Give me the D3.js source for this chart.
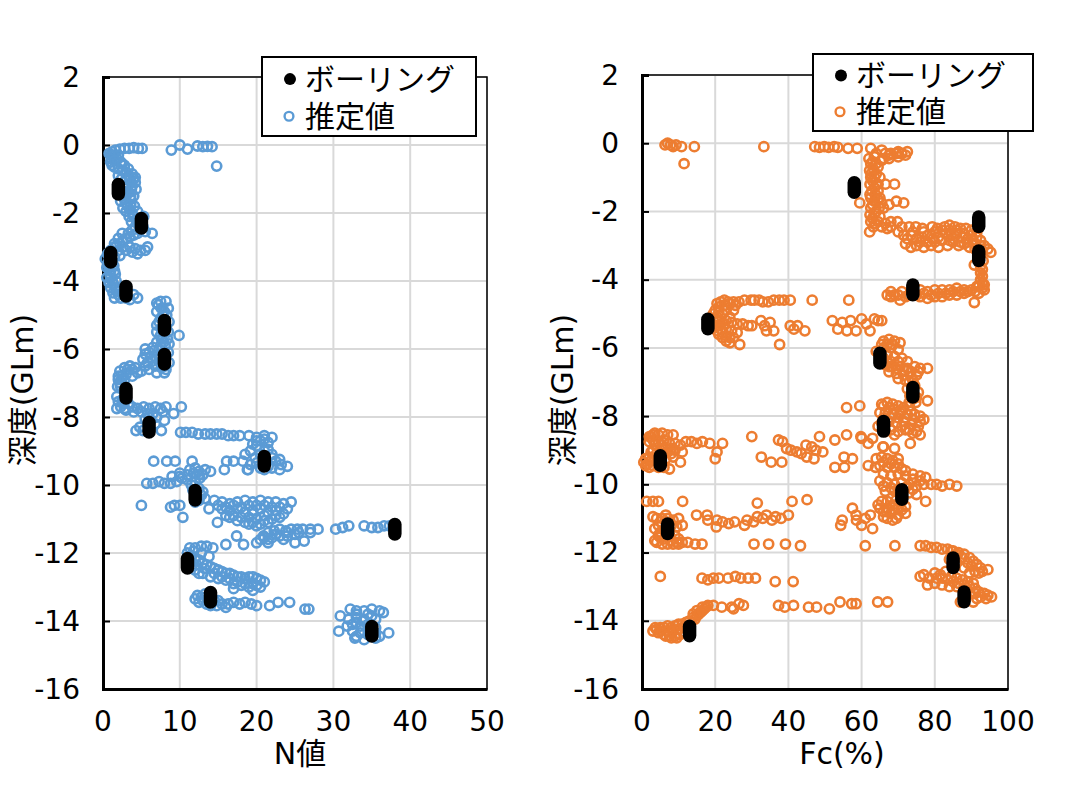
<!DOCTYPE html>
<html><head><meta charset="utf-8">
<script src="https://cdn.jsdelivr.net/npm/d3@7"></script>
<style>
body{margin:0;background:#fff}
text{font-family:"DejaVu Sans","Noto Sans CJK JP",sans-serif;fill:#000}
</style></head>
<body><svg id="c" width="1066" height="800"></svg>
<script>
// ---------------- DATA ----------------
const depthTicks = [2,0,-2,-4,-6,-8,-10,-12,-14,-16];
const nTicks = [0,10,20,30,40,50];
const fcTicks = [0,20,40,60,80,100];
const legendLabels = ["ボーリング","推定値"];

// boring (SPT) depth centres (GL m)
const boringDepth = [-1.3,-2.3,-3.3,-4.3,-5.3,-6.3,-7.3,-8.3,-9.3,-10.3,-11.3,-12.3,-13.3,-14.3];
const boringN  = [2,5,1,3,8,8,3,6,21,12,38,11,14,35];
const boringFc = [58,92,92,74,18,65,74,66,5,71,7,85,88,13];

// estimated N values [N, depth]
const estN = [
[1.2,-0.2],[1.6,-0.15],[2.2,-0.12],[2.8,-0.1],[3.4,-0.1],[4.0,-0.08],[4.6,-0.1],[5.1,-0.1],
[8.9,-0.15],[10.0,0.0],[11.0,-0.12],[12.3,-0.03],[13.0,-0.05],[13.6,-0.04],[14.2,-0.05],[14.8,-0.62],
[1.0,-0.3],[1.1,-0.4],[1.0,-0.5],[1.2,-0.6],[1.5,-0.65],[2.0,-0.7],[2.5,-0.75],[3.0,-0.8],[3.3,-0.9],
[3.5,-1.0],[3.7,-1.1],[3.8,-1.2],[3.7,-1.3],[3.4,-1.4],[3.0,-1.45],[2.7,-1.5],[2.8,-1.6],[3.0,-1.7],
[3.2,-1.8],[3.5,-1.9],[3.8,-2.0],[4.0,-2.1],[4.3,-2.2],[4.5,-2.3],[4.7,-2.4],[4.8,-2.5],[6.4,-2.6],
[4.5,-2.6],[4.0,-2.65],[3.5,-2.7],[3.0,-2.75],[2.6,-2.8],[2.2,-2.9],[1.8,-2.95],[3.5,-3.0],[4.2,-3.05],
[4.9,-3.1],[5.5,-3.1],[3.0,-3.1],[1.5,-3.0],[1.0,-3.1],[0.6,-3.2],[0.3,-3.35],[0.6,-3.5],[0.8,-3.6],
[1.0,-3.7],[0.9,-3.8],[1.0,-3.9],[1.2,-4.0],[1.4,-4.1],[1.6,-4.2],[1.8,-4.3],[2.0,-4.4],[2.3,-4.5],
[3.5,-4.55],[4.5,-4.5],[3.0,-4.5],[1.8,-0.4],[2.3,-0.5],[2.8,-0.6],[4.0,-1.0],[4.2,-1.1],[4.0,-1.5],
[3.6,-1.6],[2.4,-1.0],[2.0,-0.9],[4.1,-1.8],[4.9,-2.2],[5.2,-2.4],[2.5,-2.6],[2.0,-3.1],[1.2,-3.4],[1.6,-3.8],
[0.8,-0.25],[1.4,-0.3],[2.0,-0.3],[1.5,-0.45],[2.5,-0.55],[3.3,-0.7],[3.8,-0.85],[4.2,-0.95],[3.0,-1.0],
[2.8,-1.2],[3.2,-1.25],[4.3,-1.3],[2.6,-1.35],[3.6,-1.5],[2.3,-1.65],[3.6,-1.75],[2.6,-1.85],[3.0,-1.95],
[4.5,-1.95],[3.4,-2.1],[3.7,-2.25],[5.3,-2.1],[5.5,-2.55],[3.8,-2.5],[4.2,-2.4],[3.3,-2.6],[2.0,-2.75],
[1.5,-2.9],[2.6,-3.0],[4.5,-3.2],[5.8,-3.0],[3.8,-3.15],[2.2,-3.25],[1.5,-3.3],[0.8,-3.4],[0.5,-3.6],
[1.4,-3.55],[1.5,-3.7],[0.5,-3.9],[1.7,-4.0],[0.8,-4.05],[1.0,-4.2],[2.2,-4.25],[1.3,-4.35],[2.6,-4.4],
[1.5,-4.5],[4.0,-4.4],
[7.5,-4.6],[7.2,-4.7],[7.6,-4.8],[8.0,-4.9],[7.8,-5.0],[7.5,-5.1],[7.3,-5.2],[7.6,-5.4],[7.8,-5.5],
[7.5,-5.6],[9.9,-5.6],[7.6,-5.7],[7.9,-5.8],[8.1,-5.9],[7.3,-6.0],[6.6,-6.05],[6.0,-6.1],[5.5,-6.15],
[6.2,-6.25],[7.0,-6.3],[7.5,-6.4],[8.0,-6.5],[8.2,-6.6],[8.0,-6.7],[7.0,-6.7],[6.0,-6.6],[5.0,-6.65],
[4.2,-6.55],[3.5,-6.5],[2.8,-6.55],[2.2,-6.65],[2.5,-6.8],[3.0,-6.75],[2.4,-6.9],[2.2,-7.0],[2.3,-7.1],
[2.5,-7.5],[2.7,-7.6],[2.3,-7.7],[1.8,-7.75],[3.0,-7.8],[3.8,-7.7],[4.5,-7.75],[5.3,-7.7],[6.0,-7.75],
[6.8,-7.7],[7.5,-7.75],[8.2,-7.7],[9.2,-7.9],[10.2,-7.7],[6.5,-7.9],[7.0,-8.0],[6.2,-8.1],[5.5,-8.05],
[4.3,-8.4],[7.6,-8.4],[4.8,-8.3],[8.5,-4.8],[8.6,-5.2],[8.4,-5.7],[8.5,-6.1],[8.6,-6.4],[5.8,-6.4],[7.5,-6.2],
[7.0,-4.65],[8.2,-4.6],[7.0,-4.9],[8.3,-5.0],[7.0,-5.3],[8.2,-5.35],[7.0,-5.5],[8.5,-5.5],[7.0,-5.8],
[8.6,-5.85],[7.5,-5.9],[6.5,-5.95],[5.5,-6.0],[5.2,-6.3],[6.5,-6.35],[6.8,-6.5],[7.6,-6.55],[5.5,-6.5],
[4.5,-6.7],[3.8,-6.6],[3.2,-6.6],[3.8,-6.8],[2.0,-6.8],[2.0,-6.9],[2.8,-6.9],[1.9,-7.1],[1.8,-7.4],
[2.0,-7.55],[3.3,-7.6],[2.8,-7.75],[4.0,-7.85],[5.0,-7.85],[5.8,-7.9],[7.8,-7.85],[6.0,-8.0],[8.0,-8.1],
[6.8,-8.2],[5.2,-8.4],
[10.1,-8.45],[10.8,-8.45],[11.6,-8.45],[12.4,-8.5],[13.3,-8.5],[14.0,-8.5],[14.8,-8.5],[15.5,-8.5],
[16.3,-8.55],[17.0,-8.55],[17.8,-8.55],
[19.0,-8.55],[20.0,-8.6],[21.0,-8.55],[22.0,-8.6],[20.5,-8.7],[21.5,-8.75],[20.0,-8.85],[19.2,-9.0],
[18.5,-9.1],[19.8,-9.2],[20.5,-9.1],[22.0,-9.1],[22.5,-9.3],[23.2,-9.4],[24.0,-9.45],[22.0,-9.5],
[20.5,-9.5],[19.2,-9.4],[18.8,-9.55],[21.5,-8.95],
[20.0,-8.7],[21.0,-8.65],[19.5,-8.8],[21.0,-9.0],[22.0,-9.2],[23.0,-9.25],[20.0,-9.35],[21.5,-9.45],
[23.0,-9.55],[21.0,-9.55],
[6.6,-9.3],[8.3,-9.3],[9.4,-9.3],[11.6,-9.3],[16.1,-9.3],[17.0,-9.3],[18.2,-9.3],[15.8,-9.55],[18.9,-9.55],
[5.7,-9.95],[6.5,-9.95],[7.3,-9.9],[8.0,-9.95],[8.8,-9.95],[9.6,-9.9],[10.3,-9.8],[11.0,-9.7],[11.8,-9.65],
[12.5,-9.6],[13.3,-9.55],[14.0,-9.6],[10.0,-9.65],[11.3,-9.55],[12.0,-9.5],[9.0,-9.75],[12.6,-9.8],
[11.5,-10.0],[12.5,-10.1],[12.8,-10.3],[13.3,-10.4],[12.0,-10.5],
[10.0,-9.75],[11.0,-9.85],[12.0,-9.9],[12.5,-9.7],[13.0,-9.7],[11.7,-10.15],[12.5,-10.45],[13.0,-10.2],
[5.0,-10.6],[8.8,-10.65],[9.3,-10.6],[10.0,-10.6],[10.4,-10.95],[13.8,-10.7],[14.9,-11.1],
[14.5,-10.45],[15.5,-10.5],[16.5,-10.55],[17.5,-10.5],[18.5,-10.45],[19.5,-10.5],[20.5,-10.45],[21.5,-10.5],
[22.5,-10.5],[23.5,-10.55],[24.5,-10.5],[15.5,-10.7],[16.5,-10.75],[17.5,-10.7],[18.5,-10.8],[19.5,-10.75],
[20.5,-10.7],[21.5,-10.8],[22.5,-10.75],[23.5,-10.85],[17.0,-10.9],[18.0,-10.95],[19.0,-10.95],[20.0,-11.0],
[21.0,-10.9],[22.0,-11.0],[23.0,-10.95],[18.5,-11.1],[19.5,-11.1],[20.5,-11.15],[21.5,-11.1],[17.5,-11.05],[16.0,-10.9],
[15.0,-10.6],[16.0,-10.65],[17.0,-10.6],[18.0,-10.65],[19.0,-10.6],[20.0,-10.6],[21.0,-10.6],[22.0,-10.65],
[23.0,-10.65],[24.0,-10.7],[16.5,-10.95],[19.5,-10.85],[22.5,-10.9],[21.0,-11.05],[19.0,-11.15],[20.0,-11.2],
[20.9,-11.5],[21.5,-11.4],[22.3,-11.35],[23.0,-11.3],[23.8,-11.35],[24.5,-11.3],[25.3,-11.3],[26.0,-11.3],
[27.0,-11.3],[28.0,-11.3],[22.0,-11.55],[23.0,-11.5],[24.0,-11.5],[25.0,-11.45],[20.5,-11.6],[21.5,-11.7],
[22.5,-11.45],[24.0,-11.4],[25.5,-11.4],[27.0,-11.4],[21.0,-11.55],[21.5,-11.6],[23.5,-11.6],
[30.3,-11.3],[31.2,-11.25],[32.0,-11.2],[34.0,-11.2],[35.0,-11.25],[35.8,-11.25],[36.6,-11.2],[37.3,-11.2],
[16.0,-11.75],[18.3,-11.75],[20.0,-11.7],[25.0,-11.7],[26.2,-11.65],[17.4,-11.5],
[11.3,-11.85],[12.0,-11.85],[12.8,-11.8],[13.5,-11.8],[14.3,-11.85],[11.0,-12.0],[11.5,-12.1],[12.0,-12.15],
[12.5,-12.2],[13.0,-12.3],[13.5,-12.35],[14.0,-12.4],[14.5,-12.45],[15.0,-12.5],[15.5,-12.55],[16.0,-12.6],
[16.5,-12.6],[17.0,-12.65],[17.5,-12.7],[18.0,-12.7],[18.5,-12.75],[19.0,-12.7],[19.5,-12.7],[20.0,-12.75],
[20.5,-12.8],[21.0,-12.85],[12.0,-12.5],[13.0,-12.6],[14.0,-12.7],[15.0,-12.75],[16.0,-12.8],[17.0,-12.9],
[18.0,-12.95],[19.0,-13.0],[20.0,-12.95],[11.5,-12.4],[17.0,-13.05],[19.5,-13.1],
[11.8,-11.95],[12.8,-12.0],[13.8,-12.1],[12.2,-12.35],[13.2,-12.45],[14.5,-12.6],[15.5,-12.7],[16.5,-12.75],
[17.5,-12.85],[18.5,-12.9],[19.5,-12.9],[20.5,-13.0],[11.3,-12.25],[12.5,-12.6],
[12.3,-13.25],[12.8,-13.3],[13.3,-13.2],[15.0,-13.4],[15.5,-13.5],[16.3,-13.5],[17.0,-13.45],[17.8,-13.5],
[18.5,-13.45],[19.3,-13.5],[14.5,-13.4],[20.0,-13.55],[16.0,-13.6],[21.7,-13.55],[22.8,-13.45],[24.3,-13.45],
[26.3,-13.65],[26.8,-13.65],[12.0,-13.35],[12.5,-13.45],[13.5,-13.5],[14.0,-13.55],[14.8,-13.55],[13.0,-13.4],
[30.9,-13.85],[30.7,-14.3],[32.2,-13.65],[33.0,-13.7],[34.0,-13.7],[35.0,-13.65],[36.0,-13.7],[33.0,-13.9],
[34.0,-13.95],[35.0,-13.85],[32.5,-14.1],[33.5,-14.15],[34.5,-14.1],[32.5,-14.3],[33.5,-14.35],[34.5,-14.4],
[35.5,-14.35],[37.2,-14.35],[32.8,-14.5],[34.0,-14.55],[35.5,-14.5],[36.5,-13.75],[33.8,-14.0],
[33.0,-13.8],[34.5,-13.8],[35.5,-13.95],[32.0,-13.95],[33.0,-14.05],[34.5,-14.25],[35.5,-14.2],[36.0,-14.45],
[33.0,-14.45],[31.8,-14.15]
];

// estimated Fc values [Fc, depth]
const estFc = [
[6.3,-0.05],[7.0,0.0],[7.8,-0.05],[8.5,-0.1],[9.3,-0.05],[10.8,-0.1],[14.3,-0.1],[11.5,-0.6],[33.3,-0.1],
[47.2,-0.1],[48.5,-0.12],[49.8,-0.1],[51.0,-0.12],[52.5,-0.1],[53.5,-0.12],[56.3,-0.15],[58.8,-0.15],
[62.5,-0.15],[65.5,-0.2],[66.5,-0.3],[68,-0.3],[69.5,-0.3],[71,-0.3],[72,-0.35],[70,-0.4],[67.5,-0.45],
[65.5,-0.5],[63.5,-0.4],[62.5,-0.6],[62.2,-0.8],[62.5,-1.0],[63,-1.1],[64.5,-1.2],[66.5,-1.2],[69,-1.2],
[62.8,-1.4],[62.5,-1.6],[63.5,-1.7],[65.5,-1.75],[67.5,-1.8],[69.5,-1.7],[71.5,-1.75],[59.5,-1.75],
[62.5,-1.9],[62.3,-2.1],[63,-2.2],[64.5,-2.3],[66.5,-2.35],[68,-2.3],[69.8,-2.3],[62.2,-2.6],[63.2,-2.45],
[64,-0.9],[63.8,-1.5],[64,-2.0],[64.5,-0.7],[65,-1.0],[64.8,-1.9],
[62,-0.45],[63,-0.55],[64,-0.6],[63.2,-0.75],[62.6,-0.9],[63.5,-1.0],[63.5,-1.3],[62.3,-1.2],[64.5,-1.4],
[65,-1.6],[62.3,-1.5],[63,-1.8],[64.5,-1.65],[66,-1.9],[63.6,-2.05],[65,-2.15],[62.5,-2.3],[63.8,-2.35],
[65.5,-2.45],[67,-2.5],[67.5,-0.35],[66,-0.45],[68,-2.45],[64,-0.3],[70,-0.25],[72.5,-0.25],
[71,-2.45],[73,-2.45],[74.8,-2.45],[76.6,-2.5],[79.3,-2.45],[80.7,-2.5],[70,-2.6],[71.5,-2.7],[72.5,-2.8],
[73.5,-2.7],[75,-2.8],[76.5,-2.75],[78,-2.7],[79.5,-2.8],[81,-2.75],[72,-2.95],[73.5,-3.05],[75,-3.0],
[77,-3.05],[79,-3.0],[81,-3.05],[83.5,-3.0],[82.7,-2.45],[84,-2.4],[85.5,-2.45],[87,-2.5],[88.5,-2.5],
[90,-2.55],[91.5,-2.6],[83,-2.65],[84.5,-2.7],[86,-2.65],[87.5,-2.75],[89,-2.8],[90.5,-2.85],[85,-2.9],
[86.5,-3.0],[88,-2.95],[89.5,-3.05],[91,-3.1],[95.3,-3.2],[92.5,-3.0],[93,-3.15],
[74,-2.6],[77,-2.6],[80,-2.6],[82,-2.55],[84,-2.55],[86,-2.55],[88,-2.65],[90,-2.7],[91.5,-2.75],
[92.5,-2.85],[76,-2.9],[78,-2.9],[80,-2.9],[82,-2.85],[84,-2.85],[87,-2.9],[89,-2.9],[91,-2.95],
[93.5,-3.0],[94.5,-3.1],[92.2,-3.3],[93.2,-3.45],
[92.5,-3.6],[93,-3.7],[92.5,-3.8],[93,-3.9],[92.5,-4.0],[93,-4.1],[92,-4.2],[90.8,-3.57],[93.5,-4.3],
[70,-4.45],[68,-4.5],[67,-4.45],[72,-4.5],[76,-4.3],[78,-4.35],[80,-4.3],[82,-4.3],[84,-4.3],[86,-4.25],
[88,-4.3],[90,-4.3],[92,-4.4],[76,-4.5],[78,-4.55],[80,-4.5],[82,-4.5],[84,-4.45],[86,-4.45],[88,-4.4],
[90.8,-4.67],[70.5,-4.6],[68,-4.35],
[74,-4.35],[73,-4.45],[71,-4.35],[69,-4.45],[75,-4.45],[77,-4.4],[79,-4.45],[81,-4.4],[83,-4.4],[85,-4.35],
[87,-4.35],[89,-4.35],[91,-4.35],[93,-4.25],[91.5,-4.2],[93.5,-4.15],
[20.5,-4.7],[21.5,-4.65],[22.5,-4.6],[23.5,-4.65],[25,-4.65],[26.5,-4.65],[28,-4.6],[29.8,-4.6],[30.7,-4.6],
[32,-4.6],[33,-4.65],[34.5,-4.65],[36,-4.6],[37.5,-4.6],[38.8,-4.6],[40.5,-4.6],[46.5,-4.6],[56.5,-4.6],
[21,-4.8],[20,-4.9],[19.5,-5.0],[20.5,-5.1],[19.5,-5.2],[20,-5.4],[20.5,-5.5],[21,-5.6],[22,-5.7],[23,-5.8],
[24,-5.85],[22,-5.0],[23,-5.2],[24.5,-5.25],[26,-5.3],[27.5,-5.3],[29,-5.35],[30,-5.35],[23,-5.45],
[24.5,-5.5],[26,-5.55],[26.7,-5.9],[21.5,-5.3],[24,-5.1],
[22.5,-4.75],[24,-4.7],[25.5,-4.75],[21,-5.2],[22.5,-5.3],[20.5,-5.35],[21.5,-5.45],[22,-5.55],[23,-5.65],
[24,-5.7],[25,-5.7],[21,-4.95],[23,-4.9],[25,-4.9],
[32.5,-5.2],[33.5,-5.35],[35,-5.25],[34,-5.5],[36,-5.5],[37.6,-5.9],[40.5,-5.35],[41.5,-5.45],[42.5,-5.35],
[44.5,-5.5],[52,-5.2],[53.5,-5.45],[54.7,-5.25],[56,-5.5],[57,-5.2],[58.5,-5.5],[60,-5.15],[61.3,-5.3],
[62.3,-5.5],[63.5,-5.15],[64.5,-5.2],[65.5,-5.2],
[66,-5.8],[67.5,-5.75],[69,-5.8],[70.5,-5.85],[64,-6.1],[66,-6.0],[68,-6.0],[70,-6.05],[67,-6.2],[69,-6.25],
[71,-6.3],[72.5,-6.4],[66.5,-6.5],[68.5,-6.55],[70.5,-6.55],[72.5,-6.6],[74.5,-6.55],[76,-6.6],[78,-6.6],
[67.5,-6.7],[69.5,-6.75],[71.5,-6.8],[73.5,-6.85],[75,-6.8],[73,-7.0],[74.5,-7.1],[75.5,-7.3],[74,-7.5],
[78,-7.55],[73,-7.6],[70,-6.9],
[65.5,-5.9],[67,-5.9],[68.5,-5.9],[65,-6.2],[66,-6.3],[67,-6.4],[68,-6.4],[70,-6.4],[67.5,-6.55],
[69.5,-6.6],[71.5,-6.65],[73.5,-6.7],[75.5,-6.7],[72,-6.95],[74,-6.95],[72.5,-7.2],[73.2,-7.4],[75,-7.45],[74.8,-7.6],
[59.5,-7.7],[65.5,-7.65],[67,-7.6],[68.5,-7.65],[70,-7.7],[71.5,-7.75],[73,-7.7],[65,-7.9],[66.5,-7.9],
[68.5,-7.95],[70.5,-7.9],[72.5,-7.95],[74.5,-7.95],[76,-8.0],[77,-8.1],[67.5,-8.15],[69.5,-8.2],[71.5,-8.15],
[73.5,-8.25],[75.5,-8.3],[68,-8.4],[70,-8.45],[72,-8.4],[74,-8.5],[76,-8.55],[73.3,-8.8],[64.5,-8.3],[69,-8.55],
[66,-7.7],[67.5,-7.75],[69,-7.8],[71,-7.85],[73.5,-7.85],[66,-8.05],[68,-8.05],[70,-8.05],[72,-8.05],
[74,-8.1],[76,-8.15],[65.5,-8.2],[66.5,-8.45],[71,-8.3],[73,-8.4],[75,-8.45],
[60,-8.65],[63,-8.65],[66,-8.9],[69,-8.95],[52.7,-8.7],[55.9,-7.75],[55.9,-8.55],[59.8,-8.6],[61.8,-8.8],
[55.2,-9.2],[52.7,-9.5],[61.8,-9.45],[65.8,-8.9],[57.5,-9.25],[55.3,-9.5],[63.8,-9.5],
[3.5,-8.5],[4.5,-8.55],[5.5,-8.5],[7,-8.55],[8.5,-8.55],[2.5,-8.6],[3,-8.7],[4.5,-8.75],[6,-8.7],[7.5,-8.8],
[9,-8.8],[10.5,-8.85],[12,-8.75],[13.5,-8.75],[15,-8.8],[16.5,-8.75],[18.5,-8.8],[22,-8.8],[20.5,-9.05],
[20,-9.25],[3,-9.0],[5,-9.0],[7,-9.05],[9,-9.0],[11,-9.05],[2,-9.2],[4,-9.2],[6.5,-9.25],[8.5,-9.2],
[10.5,-9.35],[1.5,-9.4],[0.5,-9.35],[3,-9.45],[6,-9.5],[7.5,-9.55],
[1,-9.25],[2.5,-9.3],[4.5,-9.35],[1,-9.45],[2,-9.5],[4.5,-9.5],[2,-8.75],[3.5,-8.85],[5.5,-8.85],
[6.5,-8.95],[8,-8.95],[2.5,-9.05],[4,-9.1],[6,-9.1],[8,-9.1],[3,-8.55],[2,-8.6],
[30.0,-8.6],[37.3,-8.7],[38.4,-8.75],[39.5,-8.95],[40.7,-9.0],[42.3,-9.05],[43.5,-9.1],[44.8,-8.85],
[46.4,-8.9],[47.5,-9.0],[49.4,-9.05],[45,-9.2],[48.5,-8.6],[32.6,-9.2],[35.3,-9.35],[38.2,-9.35],[47,-9.25],
[64,-9.25],[65.5,-9.2],[67,-9.25],[68.5,-9.3],[70,-9.25],[65,-9.45],[67,-9.5],[69,-9.5],[71,-9.55],[66,-9.7],
[68,-9.75],[70,-9.7],[72,-9.75],[74,-9.7],[76,-9.75],[77.5,-9.8],[65,-9.9],[67,-9.95],[69,-10.0],[71,-9.95],
[73,-10.0],[75,-10.05],[77,-10.0],[79,-10.0],[80.5,-10.0],[82,-10.05],[84,-10.0],[86,-10.05],[77.5,-10.5],
[69,-10.2],[73,-10.25],[75,-10.3],
[66,-9.35],[68,-9.4],[70,-9.4],[72,-9.6],[74,-9.85],[76,-9.9],[66,-10.05],[68,-10.1],[70,-10.15],[72,-10.1],
[74,-10.15],[66.5,-10.2],[65.5,-10.5],[69.5,-10.45],[71,-10.5],[65,-10.7],[67,-10.7],[69,-10.75],[71,-10.75],
[68.5,-11.05],[66,-10.95],
[64.5,-10.6],[67,-10.5],[68.5,-10.6],[70,-10.7],[72,-10.65],[66,-10.8],[68,-10.85],[70,-10.9],[72,-10.85],
[67,-11.0],[69.5,-11.0],[62.4,-10.9],[57.5,-10.7],[58.5,-10.9],[54.7,-11.05],[54.3,-11.2],[68.2,-10.4],
[66.8,-10.8],[58.6,-11.05],[61,-11.0],[63,-11.3],[60,-11.2],
[1.3,-10.5],[3,-10.5],[4.5,-10.5],[11.1,-10.5],[6.5,-10.9],[4,-11.0],[5.5,-11.0],[7,-11.0],[8.5,-11.05],
[10,-11.0],[4.5,-11.2],[8,-11.2],[9.5,-11.25],[11,-11.2],[4.5,-11.5],[6,-11.6],[8,-11.65],[9.5,-11.7],
[11,-11.7],[12.5,-11.7],[14.5,-11.75],[16.4,-11.75],[7,-11.75],[3.5,-11.65],[5,-11.4],[14.9,-10.9],
[3,-10.95],[5,-11.1],[6.5,-11.1],[3.5,-11.3],[5,-11.55],[6.5,-11.45],[7.5,-11.5],[9,-11.5],[10,-11.6],
[4,-11.7],[5.5,-11.75],[8.5,-11.75],[10,-11.75],
[17.8,-10.9],[18,-11.05],[20.3,-11.25],[20.5,-11.05],[22,-11.1],[23.7,-11.15],[25.3,-11.1],[28,-11.2],
[28.7,-11.05],[30.5,-11.1],[31.5,-10.95],[33,-11.0],[34,-10.9],[35.5,-11.05],[36.5,-10.95],[38,-11.0],
[40,-10.9],[31.5,-10.55],[41,-10.5],[45.1,-10.45],[30.6,-11.75],[39.2,-11.75],[34.6,-11.75],[43.3,-11.8],
[61,-11.8],[69.1,-11.8],[76,-11.8],[77.5,-11.8],[79,-11.85],[80.5,-11.85],[82,-11.9],[83.5,-11.9],[85,-11.95],
[86.5,-12.0],[88,-12.05],[89.5,-12.15],[90.5,-12.25],[91.5,-12.35],[92.5,-12.45],[94.5,-12.5],[91,-12.55],
[89.5,-12.6],[84,-12.2],[86,-12.3],[83,-12.55],[81.5,-12.65],[80,-12.6],[78.5,-12.75],[77,-12.65],[76,-12.7],
[84.5,-12.7],[86,-12.75],[87.5,-12.8],[89,-12.85],[90.5,-12.9],[78,-12.95],[80,-12.9],[82,-12.95],[84,-13.0],
[86,-13.0],[88,-13.1],[89.5,-13.2],[91,-13.2],[92.5,-13.3],[94,-13.35],[95.5,-13.3],[88,-13.4],[90.5,-13.45],[87,-13.45],
[84.5,-11.95],[86,-12.05],[87.5,-12.15],[89,-12.3],[90,-12.4],[88,-12.45],[92,-12.6],[93,-12.55],[80.5,-12.75],
[82,-12.75],[83.5,-12.8],[85,-12.85],[86.5,-12.9],[88,-12.95],[89.5,-13.0],[91,-13.05],[92,-13.15],[93.5,-13.2],
[91.5,-13.35],[94.5,-13.25],
[5,-12.7],[16.4,-12.75],[18,-12.8],[19.5,-12.75],[21,-12.75],[23.5,-12.75],[25.5,-12.7],[27,-12.75],[29,-12.75],
[31,-12.75],[36.4,-12.85],[41.3,-12.85],
[37.3,-13.55],[39,-13.6],[41.4,-13.55],[45.5,-13.6],[47.7,-13.6],[51.2,-13.65],[54.1,-13.45],[57.3,-13.5],
[58.5,-13.5],[64.4,-13.45],[67.1,-13.45],[19.5,-13.55],[21.8,-13.6],[24.5,-13.6],[27.7,-13.55],[26.5,-13.5],[25,-13.65],
[18,-13.55],[17,-13.65],[16,-13.75],[15,-13.85],[14,-13.9],[13,-14.0],[12,-14.05],[11,-14.1],[10,-14.1],
[9,-14.15],[8,-14.2],[7,-14.15],[6,-14.2],[5,-14.2],[4,-14.25],[3.6,-14.2],[4.5,-14.35],[6,-14.4],[7.5,-14.45],
[9,-14.45],[10.5,-14.4],[11.8,-14.35],[13,-14.2],[15,-13.7],[16.5,-13.6],[14,-13.8],
[5,-14.3],[7,-14.3],[8.5,-14.3],[10,-14.25],[11.5,-14.2],[12,-14.15],[14.5,-13.95],[15.5,-13.8],[16.5,-13.7],
[17.5,-13.6],[3,-14.3],[6.5,-14.45],[8,-14.5],[9.5,-14.5]
];

// ---------------- DRAW ----------------
const svg = d3.select("#c");
const FONT_TICK = 28, FONT_TITLE = 30;

function panel(o){
  const g = svg.append("g");
  const x = d3.scaleLinear().domain(o.xDomain).range([o.left, o.right]);
  const y = d3.scaleLinear().domain([-16,2]).range([o.bottom, o.top]);

  // gridlines
  g.append("g").selectAll("line").data(o.xTicks).join("line")
    .attr("x1",d=>x(d)).attr("x2",d=>x(d)).attr("y1",o.top).attr("y2",o.bottom)
    .attr("stroke","#d9d9d9").attr("stroke-width",2);
  g.append("g").selectAll("line").data(depthTicks).join("line")
    .attr("x1",o.left).attr("x2",o.right).attr("y1",d=>y(d)).attr("y2",d=>y(d))
    .attr("stroke","#d9d9d9").attr("stroke-width",2);

  // frame
  g.append("rect").attr("x",o.left).attr("y",o.top).attr("width",o.right-o.left).attr("height",o.bottom-o.top)
    .attr("fill","none").attr("stroke","#000").attr("stroke-width",1.5);
  // y axis with inward ticks
  const ya = d3.axisRight(y).tickValues(depthTicks).tickSize(7).tickFormat("");
  const yg = g.append("g").attr("transform",`translate(${o.left},0)`).call(ya);
  yg.select(".domain").attr("stroke","#000").attr("stroke-width",3);
  yg.selectAll(".tick line").attr("stroke","#000").attr("stroke-width",2);
  // x axis line
  const xa = d3.axisBottom(x).tickValues(o.xTicks).tickSize(0).tickFormat("");
  const xg = g.append("g").attr("transform",`translate(0,${o.bottom})`).call(xa);
  xg.select(".domain").attr("stroke","#000").attr("stroke-width",3);

  // tick labels
  g.append("g").selectAll("text").data(depthTicks).join("text")
    .attr("x",o.left-23).attr("y",d=>y(d)).attr("text-anchor","end").attr("dominant-baseline","central")
    .attr("font-size",FONT_TICK).text(d=>String(d));
  g.append("g").selectAll("text").data(o.xTicks).join("text")
    .attr("x",d=>x(d)).attr("y",o.bottom+32).attr("text-anchor","middle").attr("dominant-baseline","central")
    .attr("font-size",FONT_TICK).text(d=>String(d));

  // titles
  g.append("text").attr("x",o.xTitleX).attr("y",753).attr("text-anchor","middle").attr("dominant-baseline","central")
    .attr("font-size",FONT_TITLE).text(o.xTitle);
  g.append("text").attr("transform",`translate(${o.yTitleX},390) rotate(-90)`).attr("text-anchor","middle")
    .attr("dominant-baseline","central").attr("font-size",FONT_TITLE).text("深度(GLm)");

  // estimated points
  g.append("g").selectAll("circle").data(o.est).join("circle")
    .attr("cx",d=>x(d[0])).attr("cy",d=>y(d[1])).attr("r",4.6)
    .attr("fill","none").attr("stroke",o.color).attr("stroke-width",2.6);

  // boring points (SPT interval drawn as capsule)
  const half = 0.14;
  g.append("g").selectAll("line").data(boringDepth.map((d,i)=>[o.boring[i],d])).join("line")
    .attr("x1",d=>x(d[0])).attr("x2",d=>x(d[0]))
    .attr("y1",d=>y(d[1]+half)).attr("y2",d=>y(d[1]-half))
    .attr("stroke","#000").attr("stroke-width",13.5).attr("stroke-linecap","round");

  // legend
  const L = o.legend;
  const lg = g.append("g");
  lg.append("rect").attr("x",L.x).attr("y",L.y).attr("width",L.w).attr("height",L.h)
    .attr("fill","#fff").attr("stroke","#000").attr("stroke-width",2);
  lg.append("circle").attr("cx",L.x+28).attr("cy",L.y+L.h*0.28).attr("r",6).attr("fill","#000");
  lg.append("circle").attr("cx",L.x+27).attr("cy",L.y+L.h*0.75).attr("r",4.4)
    .attr("fill","none").attr("stroke",o.color).attr("stroke-width",2.4);
  lg.selectAll("text").data(legendLabels).join("text")
    .attr("x",L.x+43).attr("y",(d,i)=>L.y+L.h*(i?0.75:0.28)).attr("dominant-baseline","central")
    .attr("font-size",30).text(d=>d);
}

panel({xDomain:[0,50], xTicks:nTicks, left:103, right:487, top:77, bottom:689,
  color:"#5b9bd5", est:estN, boring:boringN, xTitle:"N値", xTitleX:300, yTitleX:22,
  legend:{x:262,y:57,w:214,h:79}});
panel({xDomain:[0,100], xTicks:fcTicks, left:642, right:1008, top:75, bottom:689,
  color:"#ed7d31", est:estFc, boring:boringFc, xTitle:"Fc(%)", xTitleX:842, yTitleX:562,
  legend:{x:813,y:54,w:220,h:77}});
</script></body></html>
